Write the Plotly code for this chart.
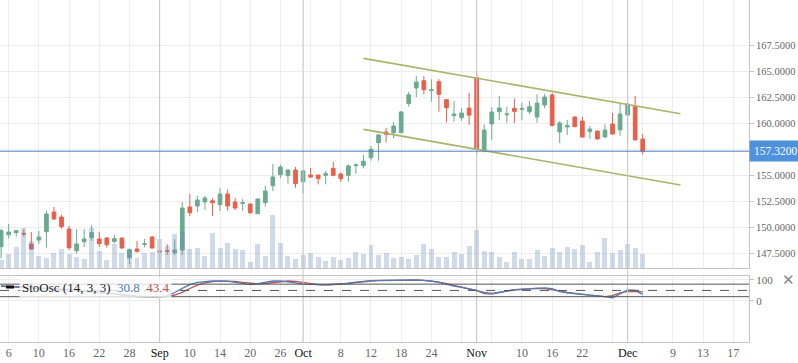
import plotly.graph_objects as go

# ---------------- data ----------------
# trading-day index: 0 = Aug 6
day_index = list(range(-1, 85))

open_ = [148.14, 149.29, 149.49, 149.42, 148.40, 148.78, 149.58, 151.47, 150.99, 149.84,
         147.76, 148.62, 149.01, 148.88, 148.97, 148.65, 148.97, 147.08, 147.92, 148.37,
         149.07, 147.70, 147.75, 147.56, 147.82, 151.96, 152.05, 152.44, 152.56, 152.18,
         153.20, 152.44, 152.31, 152.24, 151.31, 152.37, 154.01, 155.06, 154.97, 155.51,
         154.39, 155.03, 155.03, 155.00, 155.67, 155.13, 155.00, 155.93, 155.93, 156.70,
         158.14, 159.17, 159.10, 159.10, 161.90, 163.40, 164.10, 163.14, 164.01, 162.28,
         160.74, 160.54, 161.47, 164.39, 157.44, 159.94, 161.12, 160.83, 161.44, 161.35,
         161.12, 160.61, 161.76, 162.72, 159.17, 159.65, 160.61, 160.22, 159.20, 159.26,
         158.68, 159.93, 159.37, 160.80, 161.67, 158.49]
high = [149.87, 150.32, 149.74, 149.81, 149.55, 149.65, 151.57, 151.96, 151.19, 150.13,
        149.84, 149.84, 150.22, 149.58, 149.07, 149.26, 149.00, 147.98, 148.69, 148.88,
        149.17, 148.14, 148.37, 148.85, 152.44, 153.20, 153.04, 153.01, 152.79, 153.78,
        153.65, 152.82, 152.72, 152.28, 152.79, 153.97, 156.09, 156.03, 155.61, 155.80,
        155.51, 155.71, 155.03, 155.42, 156.28, 155.29, 156.06, 156.15, 156.96, 157.82,
        158.95, 159.55, 160.16, 161.19, 163.04, 164.55, 164.52, 164.23, 164.26, 162.30,
        162.15, 161.47, 162.92, 164.97, 159.90, 161.54, 162.63, 161.60, 162.37, 162.00,
        162.15, 162.79, 162.82, 162.92, 160.22, 160.32, 160.65, 160.61, 159.74, 159.28,
        159.90, 161.00, 161.90, 161.90, 162.63, 158.97]
low = [147.02, 148.91, 149.10, 149.10, 147.82, 148.40, 148.04, 150.74, 149.87, 147.82,
       147.47, 148.11, 148.69, 148.11, 148.04, 148.46, 147.95, 146.47, 147.56, 148.08,
       147.98, 146.60, 147.34, 147.34, 147.34, 151.09, 151.47, 151.67, 151.09, 151.57,
       151.60, 151.67, 151.57, 151.31, 151.28, 151.99, 153.49, 154.74, 154.20, 153.81,
       153.24, 154.78, 154.13, 154.13, 154.90, 154.36, 154.39, 155.16, 155.67, 156.41,
       156.41, 158.17, 158.56, 159.04, 161.60, 162.53, 162.79, 162.08, 161.12, 160.08,
       160.15, 160.25, 159.84, 157.02, 157.21, 158.40, 160.29, 160.03, 160.03, 160.29,
       160.90, 160.05, 161.44, 159.70, 158.10, 158.88, 159.60, 158.65, 158.52, 158.45,
       158.68, 158.95, 158.80, 158.04, 158.40, 157.00]
close = [149.68, 149.55, 149.68, 149.36, 147.92, 149.07, 151.28, 150.80, 150.06, 148.04,
         148.40, 148.88, 149.49, 148.43, 148.33, 148.91, 148.01, 147.85, 147.69, 148.43,
         148.01, 147.66, 147.70, 147.82, 151.86, 151.41, 152.63, 152.82, 152.37, 153.20,
         152.05, 151.86, 152.37, 151.41, 152.72, 153.49, 154.84, 155.80, 155.51, 154.20,
         155.42, 154.84, 154.68, 155.16, 155.00, 154.68, 155.90, 156.00, 156.35, 157.50,
         158.88, 158.94, 159.74, 161.09, 162.74, 163.97, 163.24, 163.24, 162.79, 161.50,
         160.90, 160.99, 160.79, 157.50, 159.35, 161.09, 161.47, 160.90, 161.15, 161.43,
         161.60, 161.94, 162.53, 159.80, 160.03, 159.80, 159.70, 158.68, 159.45, 158.50,
         159.35, 158.97, 160.90, 161.86, 158.40, 157.32]
volume = [8.3, 13.6, 21.3, 40.3, 26.6, 12.3, 10.3, 15.3, 19.3, 13.6,
          11.3, 9.3, 39.6, 17.3, 8.3, 24.0, 15.3, 18.0, 10.3, 15.3,
          16.3, 29.3, 22.3, 33.6, 35.6, 19.3, 20.3, 12.3, 35.3, 20.3,
          25.3, 19.3, 18.3, 6.3, 24.3, 12.3, 53.3, 25.3, 12.3, 9.3,
          13.3, 15.3, 11.3, 7.3, 11.3, 8.3, 10.3, 16.3, 14.3, 23.3,
          13.3, 15.3, 10.3, 11.3, 9.3, 13.3, 24.3, 19.3, 11.3, 11.3,
          16.3, 14.3, 22.3, 38.3, 17.3, 16.3, 11.3, 6.3, 16.3, 9.3,
          9.3, 18.3, 12.3, 20.3, 16.3, 21.3, 19.3, 23.3, 6.3, 16.3,
          30.3, 15.3, 18.3, 24.3, 20.3, 14.3]
stoch_k = [70, 68, 67, 66, 64, 62, 60, 58, 55, 52,
           48, 45, 42, 40, 37, 32, 27, 22, 20, 19,
           19, 20, 24, 40, 60, 78, 88, 92, 95, 96,
           94, 88, 82, 78, 82, 90, 95, 96, 92, 86,
           80, 78, 76, 77, 78, 80, 85, 90, 95, 97,
           98, 99, 99, 100, 100, 100, 98, 95, 88, 78,
           70, 65, 58, 50, 35, 32, 40, 48, 54, 56,
           57, 60, 62, 58, 44, 38, 35, 30, 27, 24,
           20, 15, 35, 52, 50, 30.8]
stoch_d = [72, 70, 69, 67, 66, 64, 62, 60, 58, 55,
           52, 48, 45, 42, 39, 35, 31, 27, 23, 20,
           19, 19, 21, 28, 41, 59, 75, 86, 92, 94,
           95, 93, 88, 83, 81, 83, 88, 93, 95, 93,
           87, 82, 78, 77, 78, 80, 83, 87, 92, 95,
           97, 98, 99, 99, 100, 99, 98, 95, 90, 82,
           74, 66, 58, 48, 40, 36, 40, 47, 52, 55,
           58, 60, 59, 55, 48, 40, 35, 31, 27, 24,
           20, 25, 38, 46, 45, 43.4]

# channel (trend) lines: endpoints in trading-day index / price
channel_x = [47, 89]
channel_upper = [166.25, 160.92]
channel_lower = [159.42, 154.07]

last_price = 157.32
stoch_k_last = "30.8"
stoch_d_last = "43.4"

tick_pos = [0, 4, 8, 12, 16, 20, 24, 28, 32, 36, 39, 40, 44, 48, 52, 56, 60, 62, 64,
            68, 72, 76, 80, 82, 84, 88, 92, 96]
tick_text = ["6", "10", "16", "22", "28", "Sep", "10", "14", "20", "26", "Oct", "", "8",
             "12", "18", "24", "", "Nov", "", "10", "16", "22", "", "Dec", "", "9", "13", "17"]
month_pos = [20, 39, 62, 82]
month_names = {"Sep", "Oct", "Nov", "Dec"}
price_ticks = [147.5, 150.0, 152.5, 155.0, 157.5, 160.0, 162.5, 165.0, 167.5]
stoch_ticks = [0, 100]
stoch_levels = [80, 50, 20]

# ---------------- styling ----------------
FONT = "Liberation Serif"
GREEN = "#6aab8e"
RED = "#e8604c"
GRID = "#ededed"
AXIS = "#c4c4c4"
TXT = "#666666"

styled_ticks = [
    f"<span style='color:#111'>{t}</span>" if t in month_names else t for t in tick_text
]

fig = go.Figure()

fig.add_trace(go.Candlestick(
    x=day_index, open=open_, high=high, low=low, close=close,
    increasing=dict(line=dict(color=GREEN, width=1), fillcolor=GREEN),
    decreasing=dict(line=dict(color=RED, width=1), fillcolor=RED),
    whiskerwidth=0, xaxis="x", yaxis="y", showlegend=False, hoverinfo="skip",
))

for ys in (channel_upper, channel_lower):
    fig.add_trace(go.Scatter(
        x=channel_x, y=ys, mode="lines", line=dict(color="#a7b56c", width=1.6),
        xaxis="x", yaxis="y", showlegend=False, hoverinfo="skip",
    ))

fig.add_trace(go.Bar(
    x=day_index, y=volume, marker=dict(color="rgba(100,140,190,0.31)", line=dict(width=0)),
    width=0.66, xaxis="x", yaxis="y3", showlegend=False, hoverinfo="skip",
))

fig.add_trace(go.Scatter(
    x=day_index, y=stoch_d, mode="lines", line=dict(color="#c0504d", width=1.3),
    xaxis="x2", yaxis="y2", showlegend=False, hoverinfo="skip",
))
fig.add_trace(go.Scatter(
    x=day_index, y=stoch_k, mode="lines", line=dict(color="#4a7ebb", width=1.3),
    xaxis="x2", yaxis="y2", showlegend=False, hoverinfo="skip",
))

W, H = 798, 363
ML, MR, MT, MB = 0, 49, 0, 21
plot_h = H - MT - MB  # 342
plot_w = W - ML - MR
price_bottom_px = 268
stoch_top_px = 276
xr = [-1.15, 98.08]

common_x = dict(range=xr, tickmode="array", tickvals=tick_pos, showgrid=True,
                gridcolor=GRID, gridwidth=1, zeroline=False, fixedrange=True)

shapes = []
for m in month_pos:
    shapes.append(dict(type="line", xref="x", yref="paper", x0=m, x1=m, y0=0, y1=1,
                       line=dict(color="#c6c6c6", width=1), layer="above"))
shapes.append(dict(type="line", xref="paper", yref="y", x0=0, x1=1, y0=last_price,
                   y1=last_price, line=dict(color="#4f7fbf", width=1), layer="above"))
for lv in stoch_levels:
    shapes.append(dict(type="line", xref="paper", yref="y2", x0=0, x1=1, y0=lv, y1=lv,
                       line=dict(color="#555555", width=1, dash="dash" if lv == 50 else "solid"),
                       layer="above"))

fig.update_layout(
    width=W, height=H,
    margin=dict(l=ML, r=MR, t=MT, b=MB, pad=0),
    paper_bgcolor="white", plot_bgcolor="white",
    font=dict(family=FONT, size=12, color=TXT),
    showlegend=False,
    xaxis=dict(**common_x, anchor="y", showticklabels=False, rangeslider=dict(visible=False),
               showline=True, linecolor=AXIS),
    xaxis2=dict(**common_x, anchor="y2", ticktext=styled_ticks, ticks="",
                showline=True, linecolor=AXIS, mirror=True,
                tickfont=dict(family=FONT, size=12, color=TXT)),
    yaxis=dict(domain=[1 - price_bottom_px / plot_h, 1], side="right", range=[146.09, 171.86],
               tickmode="array", tickvals=price_ticks, tickformat=".4f",
               showgrid=True, gridcolor=GRID, zeroline=False, ticks="outside", ticklen=4,
               tickcolor=AXIS, showline=True, linecolor=AXIS, automargin=False, fixedrange=True,
               tickfont=dict(family=FONT, size=10.5, color=TXT)),
    yaxis2=dict(domain=[0, 1 - stoch_top_px / plot_h], side="right", range=[-197, 119],
                tickmode="array", tickvals=stoch_ticks, showgrid=True, gridcolor=GRID,
                zeroline=False, ticks="outside", ticklen=4, tickcolor=AXIS, showline=True,
                linecolor=AXIS, mirror=True, automargin=False, fixedrange=True,
                tickfont=dict(family=FONT, size=11, color=TXT)),
    yaxis3=dict(overlaying="y", range=[0, price_bottom_px], visible=False, fixedrange=True),
    bargap=0,
    shapes=shapes,
)

legend_y = (plot_h - 287) / plot_h
fig.add_annotation(
    xref="paper", yref="paper", x=19 / plot_w, y=legend_y, xanchor="left", yanchor="middle",
    text=(f"<span style='color:#222'>StoOsc (14, 3, 3)</span>  "
          f"<span style='color:#4a7ebb'>{stoch_k_last}</span>  "
          f"<span style='color:#c0504d'>{stoch_d_last}</span>"),
    showarrow=False, bgcolor="rgba(255,255,255,0.78)", borderpad=2,
    font=dict(family=FONT, size=13, color="#222"),
)
fig.add_shape(type="line", xref="paper", yref="paper", x0=6 / plot_w, x1=14 / plot_w,
              y0=legend_y, y1=legend_y, line=dict(color="#111", width=3), layer="above")

fig.add_annotation(
    xref="paper", yref="y", x=1, y=last_price, xanchor="left", yanchor="middle",
    text=f"{last_price:.4f}", showarrow=False, bgcolor="#4e92de", borderpad=4,
    font=dict(family=FONT, size=11.5, color="white"),
)
fig.add_annotation(
    xref="paper", yref="paper", x=788 / plot_w, y=(plot_h - 280) / plot_h,
    xanchor="center", yanchor="middle", text="✕", showarrow=False,
    font=dict(family="DejaVu Sans", size=15, color="#888"),
)

fig.write_html(
    "out.html",
    config={"displayModeBar": False},
    post_script="document.body.style.margin='0';document.body.style.overflow='hidden';",
)
